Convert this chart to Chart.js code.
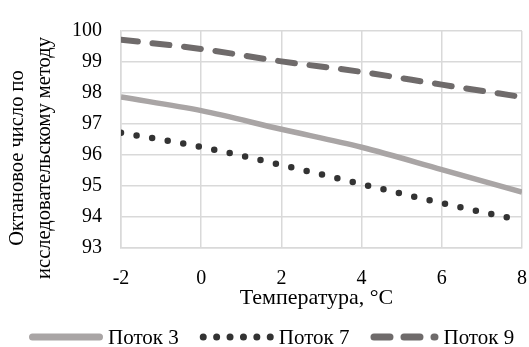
<!DOCTYPE html>
<html lang="ru">
<head>
  <meta charset="UTF-8" />
  <title>Октановое число по исследовательскому методу</title>
  <script src="https://cdn.jsdelivr.net/npm/chart.js"></script>
  <style>
    html, body { margin: 0; padding: 0; background: #fff; }
    #wrap { width: 529px; height: 347px; }
  </style>
</head>
<body>
  <div id="wrap"><canvas id="chart" width="529" height="347"></canvas></div>

  <script>
    // Data
    const temps = [-2, 0, 2, 4, 6, 8];
    const potok3 = [97.87, 97.43, 96.83, 96.25, 95.53, 94.8];
    const potok7 = [96.72, 96.26, 95.68, 95.06, 94.45, 93.88];
    const potok9 = [99.72, 99.42, 99.02, 98.68, 98.27, 97.87];
    const seriesNames = ['Поток 3', 'Поток 7', 'Поток 9'];
    const xTitle = 'Температура, °C';
    const yTitle = ['Октановое число по', 'исследовательскому методу'];

    const fontFamily = '"Liberation Serif", "Times New Roman", serif';
    const gridColor = '#d9d9d9';

    const toPoints = vals => temps.map((t, i) => ({ x: t, y: vals[i] }));

    // legend line samples (drawn by the plugin below)
    const legendDash = [[], [0, 13.4], [16, 14]];
    const legendLen = [67, 67, 61];

    const lineLegend = {
      id: 'lineLegend',
      afterDraw(chart) {
        const ctx = chart.ctx;
        const sets = chart.data.datasets;
        const cap = 7, textGap = 5, itemGap = 21;
        const y = 337;
        let x = 29;
        ctx.save();
        ctx.font = '21px ' + fontFamily;
        sets.forEach((ds, i) => {
          ctx.beginPath();
          ctx.strokeStyle = ds.borderColor;
          ctx.lineWidth = cap;
          ctx.lineCap = 'round';
          ctx.setLineDash(legendDash[i]);
          ctx.moveTo(x + cap / 2, y);
          ctx.lineTo(x + cap / 2 + legendLen[i], y);
          ctx.stroke();
          ctx.setLineDash([]);
          x += legendLen[i] + cap + textGap;
          ctx.fillStyle = '#000';
          ctx.textBaseline = 'middle';
          ctx.textAlign = 'left';
          ctx.fillText(ds.label, x, y + 1);
          x += ctx.measureText(ds.label).width + itemGap;
        });
        ctx.restore();
      }
    };

    // axis titles (Excel places them slightly off the plot centre)
    const axisTitles = {
      id: 'axisTitles',
      afterDraw(chart) {
        const ctx = chart.ctx;
        ctx.save();
        ctx.fillStyle = '#000';
        ctx.textAlign = 'center';
        ctx.textBaseline = 'middle';
        ctx.font = '22px ' + fontFamily;
        ctx.fillText(xTitle, 316.5, 298);
        ctx.font = '20.5px ' + fontFamily;
        yTitle.forEach((line, i) => {
          ctx.save();
          ctx.translate(18 + i * 27, 158);
          ctx.rotate(-Math.PI / 2);
          ctx.fillText(line, 0, 0);
          ctx.restore();
        });
        ctx.restore();
      }
    };

    new Chart(document.getElementById('chart'), {
      type: 'line',
      data: {
        datasets: [
          {
            label: seriesNames[0],
            data: toPoints(potok3),
            borderColor: '#a9a5a5',
            borderWidth: 5.5,
            cubicInterpolationMode: 'monotone',
            pointRadius: 0
          },
          {
            label: seriesNames[1],
            data: toPoints(potok7),
            borderColor: '#333333',
            borderWidth: 6.5,
            borderDash: [0, 15.8],
            borderCapStyle: 'round',
            cubicInterpolationMode: 'monotone',
            pointRadius: 0
          },
          {
            label: seriesNames[2],
            data: toPoints(potok9),
            borderColor: '#6f6b6b',
            borderWidth: 6,
            borderDash: [17, 14.7],
            borderCapStyle: 'round',
            cubicInterpolationMode: 'monotone',
            pointRadius: 0
          }
        ]
      },
      options: {
        responsive: false,
        animation: false,
        devicePixelRatio: 1,
        layout: { padding: { left: 0, top: 22, right: 7, bottom: 37 } },
        plugins: {
          legend: { display: false },
          tooltip: { enabled: false }
        },
        scales: {
          x: {
            type: 'linear',
            min: -2,
            max: 8,
            ticks: {
              stepSize: 2,
              padding: 19,
              color: '#000',
              font: { family: fontFamily, size: 20 }
            },
            grid: { color: gridColor, lineWidth: 1.5, drawTicks: false },
            border: { color: gridColor, width: 1.5 },
            afterFit(scale) {
              scale.height = 62;
              scale.paddingLeft = 0;
              scale.paddingRight = 0;
            }
          },
          y: {
            min: 93,
            max: 100,
            ticks: {
              stepSize: 1,
              padding: 19,
              color: '#000',
              font: { family: fontFamily, size: 20 }
            },
            grid: { color: gridColor, lineWidth: 1.5, drawTicks: false },
            border: { color: gridColor, width: 1.5 },
            afterFit(scale) { scale.width = 121; }
          }
        }
      },
      plugins: [lineLegend, axisTitles]
    });
  </script>
</body>
</html>
